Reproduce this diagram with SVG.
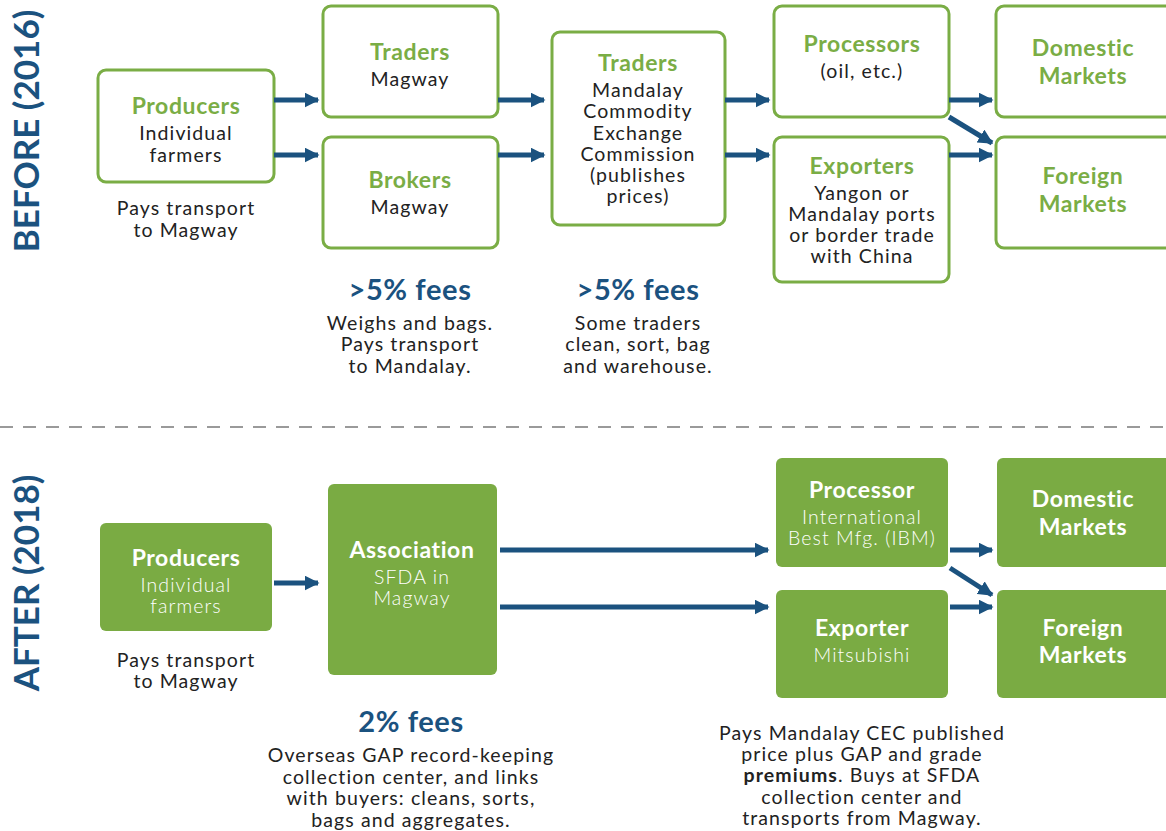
<svg xmlns="http://www.w3.org/2000/svg" width="1166" height="831" viewBox="0 0 1166 831">
  <defs>
    <marker id="arrowhead" viewBox="0 0 10 10" refX="9" refY="5" markerWidth="3" markerHeight="3" orient="auto" markerUnits="strokeWidth">
      <path d="M0,0 L10,5 L0,10 Z" fill="#1b527f"/>
    </marker>
    <style>
      .box-line { fill: #ffffff; stroke: #7aad45; stroke-width: 3; }
      .box-fill { fill: #7aab43; }
      .title { font-family: Lato, "Open Sans", sans-serif; font-weight: 700; font-size: 23px; letter-spacing: 0.6px; text-anchor: middle; fill: #7aad45; }
      .title-w { font-family: Lato, "Open Sans", sans-serif; font-weight: 700; font-size: 23px; letter-spacing: 0.6px; text-anchor: middle; fill: #ffffff; }
      .body { font-family: Lato, "Open Sans", sans-serif; font-weight: 400; font-size: 19.5px; letter-spacing: 1.1px; text-anchor: middle; fill: #222222; }
      .body-w { font-family: Lato, "Open Sans", sans-serif; font-weight: 300; font-size: 19.5px; letter-spacing: 1.1px; text-anchor: middle; fill: #ffffff; }
      .fee { font-family: Lato, "Open Sans", sans-serif; font-weight: 700; font-size: 29px; letter-spacing: 0.6px; text-anchor: middle; fill: #1b527f; }
      .side { font-family: Lato, "Open Sans", sans-serif; font-weight: 700; font-size: 35px; text-anchor: middle; fill: #1b527f; }
      .flow { stroke: #1b527f; stroke-width: 5; fill: none; marker-end: url(#arrowhead); }
    </style>
  </defs>

  <rect width="1166" height="831" fill="#ffffff"/>

  <!-- period labels -->
  <text class="side" transform="translate(39,131) rotate(-90)">BEFORE (2016)</text>
  <text class="side" transform="translate(39,583) rotate(-90)">AFTER (2018)</text>

  <!-- divider -->
  <line x1="0" y1="427" x2="1166" y2="427" stroke="#9a9a9a" stroke-width="2" stroke-dasharray="13 10"/>

  <!-- ===== Before (2016) ===== -->
  <g id="before-producers">
    <rect class="box-line" x="98" y="70" width="176" height="112" rx="8"/>
    <text class="title" x="186" y="114">Producers</text>
    <text class="body" x="186" y="140">Individual</text>
    <text class="body" x="186" y="162">farmers</text>
  </g>
  <g id="before-producers-note">
    <text class="body" x="186" y="215">Pays transport</text>
    <text class="body" x="186" y="237">to Magway</text>
  </g>

  <g id="before-traders-magway">
    <rect class="box-line" x="323" y="6" width="175" height="111" rx="8"/>
    <text class="title" x="410" y="60">Traders</text>
    <text class="body" x="410" y="86">Magway</text>
  </g>

  <g id="before-brokers">
    <rect class="box-line" x="323" y="137" width="175" height="111" rx="8"/>
    <text class="title" x="410" y="188">Brokers</text>
    <text class="body" x="410" y="214">Magway</text>
  </g>

  <g id="before-traders-mandalay">
    <rect class="box-line" x="552" y="32" width="173" height="193" rx="8"/>
    <text class="title" x="638" y="71">Traders</text>
    <text class="body" x="638" y="97">Mandalay</text>
    <text class="body" x="638" y="118">Commodity</text>
    <text class="body" x="638" y="140">Exchange</text>
    <text class="body" x="638" y="161">Commission</text>
    <text class="body" x="638" y="182">(publishes</text>
    <text class="body" x="638" y="203">prices)</text>
  </g>

  <g id="before-processors">
    <rect class="box-line" x="774" y="6" width="175" height="111" rx="8"/>
    <text class="title" x="862" y="52">Processors</text>
    <text class="body" x="862" y="78">(oil, etc.)</text>
  </g>

  <g id="before-exporters">
    <rect class="box-line" x="774" y="137" width="175" height="145" rx="8"/>
    <text class="title" x="862" y="174">Exporters</text>
    <text class="body" x="862" y="200">Yangon or</text>
    <text class="body" x="862" y="221">Mandalay ports</text>
    <text class="body" x="862" y="242">or border trade</text>
    <text class="body" x="862" y="263">with China</text>
  </g>

  <g id="before-domestic">
    <rect class="box-line" x="996" y="6" width="185" height="111" rx="8"/>
    <text class="title" x="1083" y="56">Domestic</text>
    <text class="title" x="1083" y="84">Markets</text>
  </g>

  <g id="before-foreign">
    <rect class="box-line" x="996" y="137" width="185" height="111" rx="8"/>
    <text class="title" x="1083" y="184">Foreign</text>
    <text class="title" x="1083" y="212">Markets</text>
  </g>

  <g id="before-fees-brokers">
    <text class="fee" x="410" y="300">&gt;5% fees</text>
    <text class="body" x="410" y="330">Weighs and bags.</text>
    <text class="body" x="410" y="351">Pays transport</text>
    <text class="body" x="410" y="373">to Mandalay.</text>
  </g>

  <g id="before-fees-traders">
    <text class="fee" x="638" y="300">&gt;5% fees</text>
    <text class="body" x="638" y="330">Some traders</text>
    <text class="body" x="638" y="351">clean, sort, bag</text>
    <text class="body" x="638" y="373">and warehouse.</text>
  </g>

  <!-- ===== After (2018) ===== -->
  <g id="after-producers">
    <rect class="box-fill" x="100" y="523" width="172" height="108" rx="6"/>
    <text class="title-w" x="186" y="566">Producers</text>
    <text class="body-w" x="186" y="592">Individual</text>
    <text class="body-w" x="186" y="613">farmers</text>
  </g>
  <g id="after-producers-note">
    <text class="body" x="186" y="667">Pays transport</text>
    <text class="body" x="186" y="688">to Magway</text>
  </g>

  <g id="after-association">
    <rect class="box-fill" x="328" y="484" width="169" height="191" rx="6"/>
    <text class="title-w" x="412" y="558">Association</text>
    <text class="body-w" x="412" y="584">SFDA in</text>
    <text class="body-w" x="412" y="605">Magway</text>
  </g>

  <g id="after-processor">
    <rect class="box-fill" x="776" y="458" width="172" height="109" rx="6"/>
    <text class="title-w" x="862" y="498">Processor</text>
    <text class="body-w" x="862" y="524">International</text>
    <text class="body-w" x="862" y="545">Best Mfg. (IBM)</text>
  </g>

  <g id="after-exporter">
    <rect class="box-fill" x="776" y="590" width="172" height="108" rx="6"/>
    <text class="title-w" x="862" y="636">Exporter</text>
    <text class="body-w" x="862" y="662">Mitsubishi</text>
  </g>

  <g id="after-domestic">
    <rect class="box-fill" x="997" y="458" width="185" height="109" rx="6"/>
    <text class="title-w" x="1083" y="507">Domestic</text>
    <text class="title-w" x="1083" y="535">Markets</text>
  </g>

  <g id="after-foreign">
    <rect class="box-fill" x="997" y="590" width="185" height="108" rx="6"/>
    <text class="title-w" x="1083" y="636">Foreign</text>
    <text class="title-w" x="1083" y="663">Markets</text>
  </g>

  <g id="after-fees-association">
    <text class="fee" x="411" y="732">2% fees</text>
    <text class="body" x="411" y="762">Overseas GAP record-keeping</text>
    <text class="body" x="411" y="784">collection center, and links</text>
    <text class="body" x="411" y="805">with buyers: cleans, sorts,</text>
    <text class="body" x="411" y="827">bags and aggregates.</text>
  </g>

  <g id="after-buyer-note">
    <text class="body" x="862" y="740">Pays Mandalay CEC published</text>
    <text class="body" x="862" y="761">price plus GAP and grade</text>
    <text class="body" x="862" y="782"><tspan font-weight="700">premiums</tspan>. Buys at SFDA</text>
    <text class="body" x="862" y="804">collection center and</text>
    <text class="body" x="862" y="825">transports from Magway.</text>
  </g>

  <!-- connectors -->
  <g id="connectors">
    <line class="flow" x1="274" y1="100" x2="318" y2="100"/>
    <line class="flow" x1="274" y1="155" x2="318" y2="155"/>
    <line class="flow" x1="498" y1="100" x2="544" y2="100"/>
    <line class="flow" x1="498" y1="155" x2="544" y2="155"/>
    <line class="flow" x1="725" y1="100" x2="769" y2="100"/>
    <line class="flow" x1="725" y1="155" x2="769" y2="155"/>
    <line class="flow" x1="949" y1="100" x2="992" y2="100"/>
    <line class="flow" x1="949" y1="117" x2="992" y2="143"/>
    <line class="flow" x1="949" y1="155" x2="992" y2="155"/>

    <line class="flow" x1="274" y1="583" x2="318" y2="583"/>
    <line class="flow" x1="500" y1="550" x2="768" y2="550"/>
    <line class="flow" x1="500" y1="607" x2="768" y2="607"/>
    <line class="flow" x1="950" y1="550" x2="992" y2="550"/>
    <line class="flow" x1="950" y1="568" x2="992" y2="595"/>
    <line class="flow" x1="950" y1="607" x2="992" y2="607"/>
  </g>
</svg>
